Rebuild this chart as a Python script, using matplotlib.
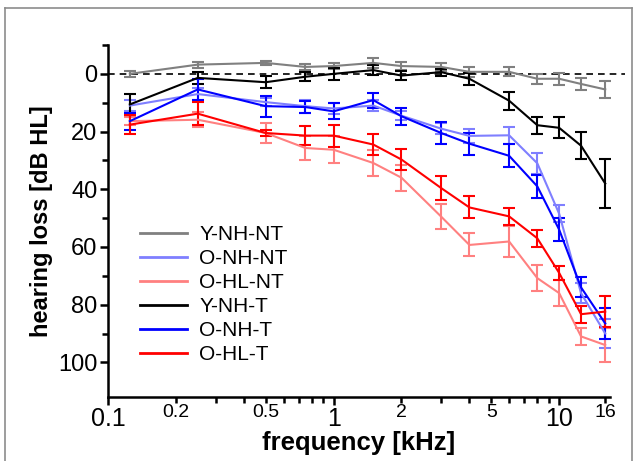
import matplotlib
matplotlib.use("Agg")
import matplotlib.pyplot as plt
from matplotlib.lines import Line2D
from matplotlib.ticker import FixedLocator, NullFormatter

plt.rcParams['font.family'] = ['Liberation Sans', 'DejaVu Sans']

# frequencies (kHz)
freqs = [0.125, 0.25, 0.5, 0.75, 1, 1.5, 2, 3, 4, 6, 8, 10, 12.5, 16]

# hearing loss (dB HL) and error bars per group
y_nh_nt = [0, -3.2, -3.8, -2.4, -2.7, -3.8, -2.7, -2.4, -0.7, -0.7, 1.7, 1.7, 3.5, 5.4]
y_nh_nt_err = [1, 1, 0.8, 1.1, 1.1, 1.6, 1.3, 1.4, 1.7, 1.6, 1.7, 2, 2, 3]

o_nh_nt = [11, 7, 9.8, 11.2, 12, 11, 14.5, 19, 21.5, 21.3, 31, 48.5, 76, 90]
o_nh_nt_err = [2, 2, 1.5, 2.3, 2, 2, 1.5, 2, 2.5, 3, 3.7, 3, 3.5, 5]

o_hl_nt = [16.4, 15.9, 20.5, 25.7, 26.3, 30.9, 36, 49.5, 59.3, 58.1, 70.8, 76, 91, 94]
o_hl_nt_err = [1.5, 2.6, 3.6, 4, 4.6, 4.6, 4.5, 4.3, 4, 5.5, 4.6, 4.6, 3, 5.8]

y_nh_t = [10.6, 1.4, 2.9, 1, 0, -1.3, 0.6, -0.6, 1.7, 9.3, 17.8, 18.7, 24.9, 38]
y_nh_t_err = [3.5, 2, 2, 1.6, 2.2, 1.6, 1.7, 1.2, 2, 3.1, 2.9, 3.6, 4.6, 8.4]

o_nh_t = [16.4, 5.4, 11.2, 11.5, 13, 9.1, 14.7, 20.5, 24.2, 28.4, 39, 54, 74, 86.5]
o_nh_t_err = [3, 3.5, 3.6, 2, 2.8, 2.6, 2.9, 3.8, 3.8, 4, 4, 4, 3.5, 5.5]

o_hl_t = [17.6, 13.8, 20.5, 21.4, 21.4, 24.5, 29.7, 39.6, 46.3, 49.4, 57, 69, 83.3, 82.4]
o_hl_t_err = [3.3, 4, 1, 3.2, 3.8, 3.5, 3.5, 4.2, 3.8, 3, 3, 2.5, 3, 5.5]

series = [
    ('Y-NH-NT', y_nh_nt, y_nh_nt_err, '#808080'),
    ('O-NH-NT', o_nh_nt, o_nh_nt_err, '#7f7fff'),
    ('O-HL-NT', o_hl_nt, o_hl_nt_err, '#ff8080'),
    ('Y-NH-T', y_nh_t, y_nh_t_err, '#000000'),
    ('O-NH-T', o_nh_t, o_nh_t_err, '#0000ff'),
    ('O-HL-T', o_hl_t, o_hl_t_err, '#ff0000'),
]

fig = plt.figure(figsize=(6.44, 4.61), dpi=100)
ax = fig.add_axes([108 / 644, 1 - 397 / 461, 502 / 644, 352 / 461])

# zero reference line
ax.axhline(0, xmin=0, xmax=1.03, color='black', lw=1.2, ls=(0, (4, 3)), clip_on=False, zorder=1)

handles = []
for name, vals, err, col in series:
    ax.errorbar(freqs, vals, yerr=err, color=col, lw=1.5, elinewidth=1.5,
                capsize=4.5, capthick=1.5, zorder=3)
    handles.append(Line2D([], [], color=col, lw=2, label=name))

ax.set_xscale('log')
ax.set_xlim(0.1, 16.8)
ax.set_ylim(112, -10)

# x ticks: big labels at decades, small ones in between
ax.xaxis.set_major_locator(FixedLocator([0.1, 1, 10]))
ax.set_xticklabels(['0.1', '1', '10'], fontsize=18)
minor_x = [0.2, 0.3, 0.4, 0.5, 0.6, 0.7, 0.8, 0.9, 2, 3, 4, 5, 6, 7, 8, 9, 16]
ax.xaxis.set_minor_locator(FixedLocator(minor_x))
ax.xaxis.set_minor_formatter(NullFormatter())
ax.tick_params(axis='x', which='major', length=5.5, width=1.8, pad=2)
ax.tick_params(axis='x', which='minor', length=4, width=1.8)
for v, s in [(0.2, '0.2'), (0.5, '0.5'), (2, '2'), (5, '5'), (16, '16')]:
    ax.text(v, -0.021, s, transform=ax.get_xaxis_transform(), fontsize=14,
            ha='center', va='top')

# y ticks
ax.set_yticks([0, 20, 40, 60, 80, 100])
ax.set_yticks([-10, 10, 30, 50, 70, 90], minor=True)
ax.tick_params(axis='y', which='major', length=5.5, width=1.8, labelsize=17, pad=2)
ax.tick_params(axis='y', which='minor', length=4, width=1.8)

for sp in ['top', 'right']:
    ax.spines[sp].set_visible(False)
for sp in ['left', 'bottom']:
    ax.spines[sp].set_linewidth(1.8)

ax.set_xlabel('frequency [kHz]', fontsize=18.5, fontweight='bold', labelpad=0)
ax.set_ylabel('hearing loss [dB HL]', fontsize=17, fontweight='bold', labelpad=4)

ax.legend(handles=handles, loc='upper left', bbox_to_anchor=(140 / 644, 1 - 225 / 461),
          bbox_transform=fig.transFigure, frameon=False, fontsize=15,
          handlelength=2.25, handletextpad=0.6, labelspacing=0.24,
          borderpad=0, borderaxespad=0)

# gray frame around the figure
frame_kw = dict(color='#8c8c8c', lw=1.2, transform=fig.transFigure)
fig.add_artist(Line2D([5 / 644, 5 / 644], [0, 1 - 8 / 461], **frame_kw))
fig.add_artist(Line2D([5 / 644, 632 / 644], [1 - 8 / 461, 1 - 8 / 461], **frame_kw))
fig.add_artist(Line2D([632 / 644, 632 / 644], [0, 1 - 8 / 461], **frame_kw))

fig.savefig('out.png', dpi=100)
